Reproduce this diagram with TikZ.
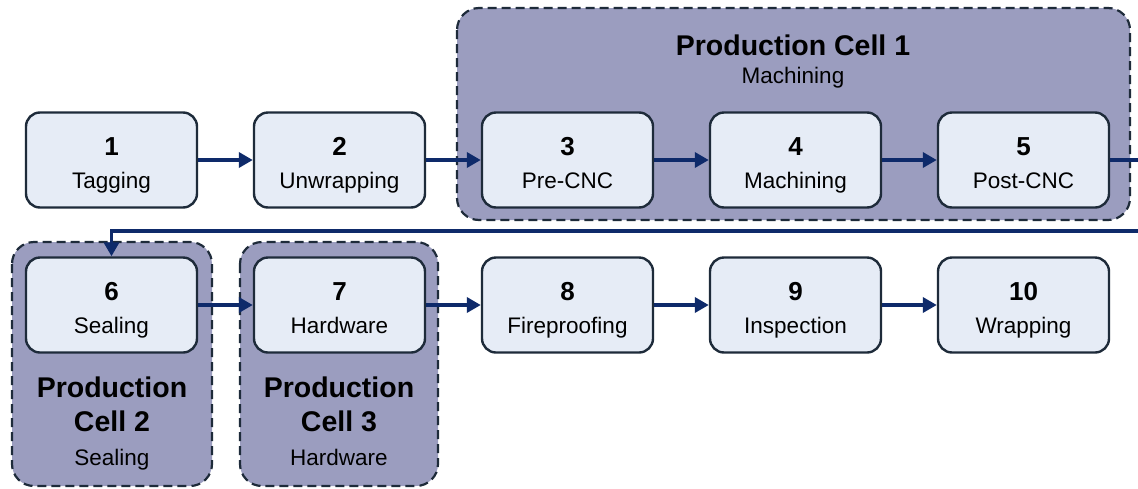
\documentclass[tikz,border=0pt]{standalone}
\usepackage{fontspec}
\setmainfont{Liberation Sans}
\usetikzlibrary{arrows.meta}
\definecolor{stepfill}{HTML}{E6ECF6}
\definecolor{stepline}{HTML}{1E2B3A}
\definecolor{cellfill}{HTML}{9B9DBF}
\definecolor{flow}{HTML}{0E2A6A}
\tikzset{
  stepbox/.style={draw=stepline, line width=2.4pt, fill=stepfill, rounded corners=14pt,
    minimum width=171pt, minimum height=95pt, align=center, inner sep=0pt,
    font=\fontsize{22.5}{33}\selectfont},
  cellbox/.style={draw=stepline, line width=2.2pt, dash pattern=on 9pt off 5pt,
    fill=cellfill, rounded corners=22pt},
  flowarrow/.style={draw=flow, line width=3.6pt, -{Triangle[length=14pt,width=15pt]}},
  celltitle/.style={font=\fontsize{28.5}{34}\selectfont\bfseries, anchor=base},
  cellsub/.style={font=\fontsize{22.5}{26}\selectfont, anchor=base}
}
% number on top, name below, with struts fixing both baselines
\newcommand{\steptext}[2]{{\fontsize{26}{33}\selectfont\bfseries\rule{0pt}{28pt}#1}\\#2\rule[-5pt]{0pt}{5pt}}
\begin{document}
\begin{tikzpicture}[x=1pt,y=-1pt]
\clip (0,0) rectangle (1138,488);
\fill[white] (0,0) rectangle (1138,488);
% production cells
\draw[cellbox] (457,8) rectangle (1130,220);
\node[celltitle] (c1t) at (793,55) {Production Cell 1};
\node[cellsub] (c1s) at (793,83) {Machining};
\draw[cellbox] (12,242) rectangle (212,486);
\node[celltitle] (c2a) at (112,397) {Production};
\node[celltitle] (c2b) at (112,431) {Cell 2};
\node[cellsub] (c2s) at (112,465) {Sealing};
\draw[cellbox] (240,242) rectangle (438,486);
\node[celltitle] (c3a) at (339,397) {Production};
\node[celltitle] (c3b) at (339,431) {Cell 3};
\node[cellsub] (c3s) at (339,465) {Hardware};
% process steps
\node[stepbox] (s1) at (111.5,160) {\steptext{1}{Tagging}};
\node[stepbox] (s2) at (339.5,160) {\steptext{2}{Unwrapping}};
\node[stepbox] (s3) at (567.5,160) {\steptext{3}{Pre-CNC}};
\node[stepbox] (s4) at (795.5,160) {\steptext{4}{Machining}};
\node[stepbox] (s5) at (1023.5,160) {\steptext{5}{Post-CNC}};
\node[stepbox] (s6) at (111.5,305) {\steptext{6}{Sealing}};
\node[stepbox] (s7) at (339.5,305) {\steptext{7}{Hardware}};
\node[stepbox] (s8) at (567.5,305) {\steptext{8}{Fireproofing}};
\node[stepbox] (s9) at (795.5,305) {\steptext{9}{Inspection}};
\node[stepbox] (s10) at (1023.5,305) {\steptext{10}{Wrapping}};
% flow
\draw[flowarrow] (s1) -- (s2);
\draw[flowarrow] (s2) -- (s3);
\draw[flowarrow] (s3) -- (s4);
\draw[flowarrow] (s4) -- (s5);
\coordinate (turnR) at (1145,231);
\draw[flowarrow] (s5.east) -| (turnR) -| (s6.north);
\draw[flowarrow] (s6) -- (s7);
\draw[flowarrow] (s7) -- (s8);
\draw[flowarrow] (s8) -- (s9);
\draw[flowarrow] (s9) -- (s10);
\end{tikzpicture}
\end{document}
